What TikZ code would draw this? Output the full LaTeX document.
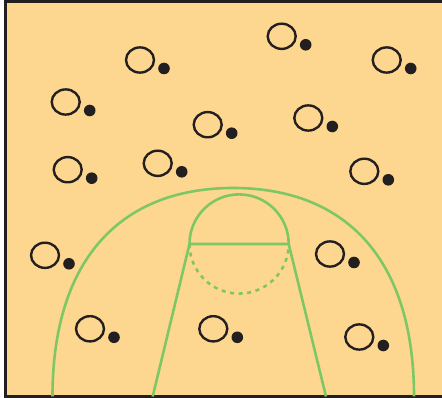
\documentclass[tikz,border=0pt]{standalone}
\usepackage{tikz}
\usetikzlibrary{calc}

\definecolor{courtfill}{RGB}{253,215,143}
\definecolor{courtline}{RGB}{125,200,100}
\definecolor{ink}{RGB}{35,31,32}

\begin{document}
\begin{tikzpicture}[x=1pt, y=1pt,
    line/.style={courtline, line width=2.6pt},
    player/.style={ink, line width=2.4pt},
    ball/.style={fill=ink}]
    \useasboundingbox (0,0) rectangle (442,398);

    % floor and frame
    \fill[courtfill] (5.3,1.5) rectangle (442,396.7);
    \draw[ink, line width=2.8pt] (442,396.7) -- (5.3,396.7) -- (5.3,1.5) -- (442,1.5);

    % three point line
    \coordinate (L) at (52.5,1.5);
    \coordinate (T) at (233.25,210);
    \coordinate (R) at (414,1.5);
    \draw[line] (L) .. controls (52.5,138) and (120,210) .. (T)
                    .. controls (346.5,210) and (414,138) .. (R);

    % lane and free throw circle
    \coordinate (FL) at (189.5,154);
    \coordinate (FR) at (288.7,154);
    \draw[line] (152.7,1.5) -- (FL) -- (FR) -- (326,1.5);
    \draw[line] (FL) arc[start angle=180, end angle=0, radius=49.6];
    \draw[line, dash pattern=on 4pt off 4.6pt] (FL) arc[start angle=180, end angle=360, radius=49.6];

    % players with balls
    \foreach \x/\y in {140/338, 281.7/361.7, 386.7/338,
                       65.7/296, 207.7/273.3, 308.3/280,
                       67.7/228.3, 157.7/234.7, 364.3/226.7,
                       45/142.7, 330/144,
                       90/69.2, 213.3/69.2, 359.3/61} {
        \draw[player] (\x,\y) ellipse[x radius=14, y radius=12.6];
        \fill[ball] (\x+24,\y-8.5) circle[radius=5.8];
    }
\end{tikzpicture}
\end{document}
